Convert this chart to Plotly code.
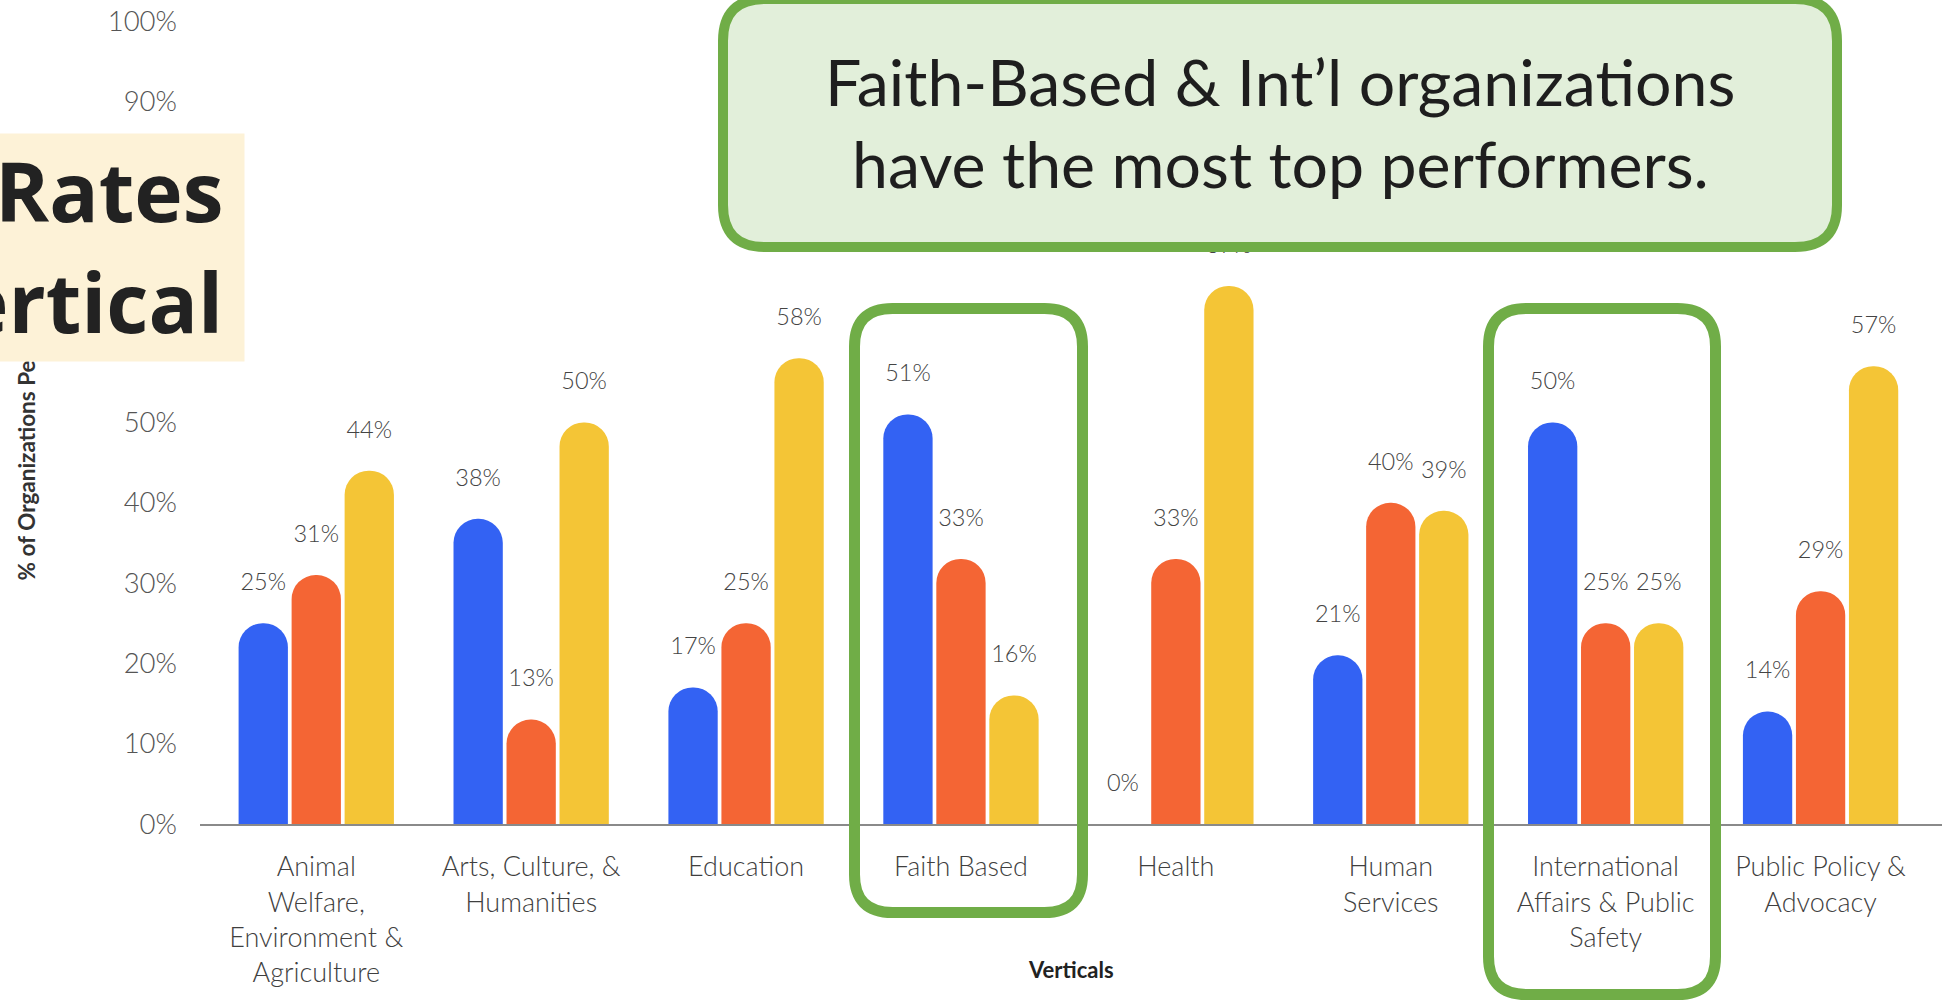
import plotly.graph_objects as go

# ---- data -------------------------------------------------------------
verticals = [
    "Animal<br>Welfare,<br>Environment &<br>Agriculture",
    "Arts, Culture, &<br>Humanities",
    "Education",
    "Faith Based",
    "Health",
    "Human<br>Services",
    "International<br>Affairs & Public<br>Safety",
    "Public Policy &<br>Advocacy",
]
series_names = ["High", "Mid", "Low"]
high_vals = [25, 38, 17, 51, 0, 21, 50, 14]
mid_vals = [31, 13, 25, 33, 33, 40, 25, 29]
low_vals = [44, 50, 58, 16, 67, 39, 25, 57]
y_ticks = [0, 10, 20, 30, 40, 50, 60, 70, 80, 90, 100]

series_values = [high_vals, mid_vals, low_vals]
series_colors = ["#3362F3", "#F46534", "#F4C536"]

# ---- page geometry ----------------------------------------------------
W, H = 1952, 1001
ML, MR, MT, MB = 200, 10, 21, 177
PW, PH = W - ML - MR, H - MT - MB


def px(xp):
    return (xp - ML) / PW


def py(yp):
    return 1 - (yp - MT) / PH


def rounded_rect(x0, y0, x1, y1, r):
    """SVG path (paper units) for a rounded rectangle given in page pixels."""
    rx, ry = r / PW, r / PH
    X0, X1, Y0, Y1 = px(x0), px(x1), py(y0), py(y1)  # Y0 top, Y1 bottom
    return (
        f"M {X0 + rx},{Y0} L {X1 - rx},{Y0} Q {X1},{Y0} {X1},{Y0 - ry} "
        f"L {X1},{Y1 + ry} Q {X1},{Y1} {X1 - rx},{Y1} "
        f"L {X0 + rx},{Y1} Q {X0},{Y1} {X0},{Y1 + ry} "
        f"L {X0},{Y0 - ry} Q {X0},{Y0} {X0 + rx},{Y0} Z"
    )


fig = go.Figure()

for name, vals, col in zip(series_names, series_values, series_colors):
    fig.add_trace(go.Bar(
        x=verticals, y=vals, name=name, offsetgroup=name,
        marker=dict(color=col, cornerradius="50%", line=dict(width=0)),
        hoverinfo="skip",
    ))

# value labels, grouped the same way as the bars
for name, vals in zip(series_names, series_values):
    fig.add_trace(go.Scatter(
        x=verticals, y=vals, offsetgroup=name, mode="markers+text",
        text=[f"{v}%" for v in vals], textposition="top center",
        marker=dict(size=42, opacity=0),
        textfont=dict(family="Lato", size=23.5, color="#444444", weight=300),
        hoverinfo="skip", showlegend=False,
    ))

fig.update_layout(
    width=W, height=H,
    margin=dict(l=ML, r=MR, t=MT, b=MB, autoexpand=False),
    paper_bgcolor="white", plot_bgcolor="white",
    barmode="group", bargap=0.26, bargroupgap=0.07,
    scattermode="group", scattergap=0.26,
    showlegend=False,
    font=dict(family="Lato", color="#444444"),
)

fig.update_xaxes(
    range=[-0.541, 7.565], showgrid=False, zeroline=False,
    showline=True, linecolor="#8a8a8a", linewidth=2,
    ticks="", ticklabelstandoff=18, automargin=False,
    tickfont=dict(family="Lato", size=27, color="#3f3f3f", weight=300),
)
fig.update_yaxes(
    range=[0, 100], tickvals=y_ticks, ticktext=[f"{t}%" for t in y_ticks],
    showgrid=False, zeroline=False, showline=False, ticks="",
    ticklabelstandoff=22, automargin=False,
    tickfont=dict(family="Lato", size=27.5, color="#555555", weight=300),
)

# highlight frames around two verticals and the callout box
frame = dict(type="path", xref="paper", yref="paper", layer="above",
             line=dict(color="#70AD47", width=11))
fig.add_shape(path=rounded_rect(854.5, 308.5, 1082.5, 912.5, 38), **frame)
fig.add_shape(path=rounded_rect(1488.5, 308.5, 1715.5, 994.5, 38), **frame)
fig.add_shape(type="path", xref="paper", yref="paper", layer="above",
              path=rounded_rect(723, -1, 1837, 247, 42),
              fillcolor="#E2EFDA", line=dict(color="#70AD47", width=10))

# axis titles
fig.add_annotation(
    text="<b>% of Organizations Per Vertical</b>", textangle=-90,
    xref="paper", yref="paper", x=px(26), y=py(583),
    xanchor="center", yanchor="bottom", showarrow=False,
    font=dict(family="Lato", size=22.5, color="#333333"),
)
fig.add_annotation(
    text="<b>Verticals</b>", xref="paper", yref="paper",
    x=px(1071), y=py(969), xanchor="center", yanchor="middle",
    showarrow=False, font=dict(family="Lato", size=22, color="#222222"),
)

# slide heading panel
fig.add_annotation(
    text=" ", xref="paper", yref="paper", x=px(22), y=py(247.5),
    xanchor="center", yanchor="middle", width=444, height=227,
    bgcolor="#FDF2D7", borderpad=0, showarrow=False,
)
for line_text, yc in [("Rates", 190.5), ("ertical", 300.5)]:
    fig.add_annotation(
        text=f"<b>{line_text}</b>", xref="paper", yref="paper",
        x=px(225), y=py(yc), xanchor="right", yanchor="middle",
        showarrow=False,
        font=dict(family="Open Sans", size=82, color="#222222"),
    )

# callout text
for line_text, yc in [("Faith-Based &amp; Int’l organizations", 81),
                      ("have the most top performers.", 163)]:
    fig.add_annotation(
        text=line_text, xref="paper", yref="paper",
        x=px(1280), y=py(yc), xanchor="center", yanchor="middle",
        showarrow=False,
        font=dict(family="Lato", size=64.4, color="#1e1e1e"),
    )

fig.write_html("out.html")
